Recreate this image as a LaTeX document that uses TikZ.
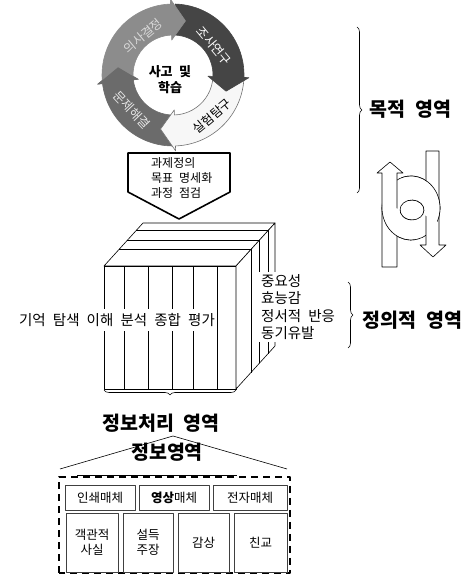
\documentclass[tikz,border=0pt]{standalone}
\usepackage{fontspec}
\setmainfont{Noto Sans CJK KR}[WordSpace=2.2]
\usetikzlibrary{decorations.pathreplacing,calc}
\definecolor{gA}{gray}{0.55}
\definecolor{gB}{gray}{0.27}
\definecolor{gC}{gray}{0.97}
\definecolor{gD}{gray}{0.42}
\newcommand\cycarr[4]{%
  \filldraw[fill=#3,draw=#4,line width=0.6pt,shift={(173,502)}]
  (#1:71) arc[start angle=#1,end angle=#2,radius=71] -- (#2:76) -- ({#2-15}:55.5)
  -- (#2:35) -- (#2:40) arc[start angle=#2,end angle=#1,radius=40] -- cycle;}
\begin{document}
\begin{tikzpicture}[x=1pt,y=1pt,line join=round,
  thin line/.style={line width=0.6pt},
  bigl/.style={font=\bfseries\fontsize{19.5}{20}\selectfont},
  midl/.style={font=\fontsize{14.5}{17.3}\selectfont},
  ringl/.style={font=\fontsize{12.5}{13}\selectfont,inner sep=0pt},
  boxl/.style={draw=black!75,line width=0.8pt,font=\fontsize{12.5}{15.5}\selectfont,align=center,inner sep=0pt},
  braceb/.style={decorate,decoration={brace,amplitude=5pt},line width=0.6pt}]
\useasboundingbox (0,0) rectangle (471,577);
\fill[white] (0,0) rectangle (471,577);

% ---- cycle of arrows
\cycarr{269}{187}{gD}{gD}
\cycarr{-4}{-88}{gC}{black!55}
\cycarr{88}{-2}{gB}{gB}
\cycarr{184}{92}{gA}{gA}
\fill[gD,shift={(173,502)}] (187:76) -- (172:55.5) -- (187:35) -- cycle;

\node[ringl,text=white!85!black,rotate=40] (r1) at (143,541) {의사결정};
\node[ringl,text=white,rotate=-50] (r2) at (214,531) {조사연구};
\node[ringl,text=black,rotate=40] (r3) at (212,461) {실험탐구};
\node[ringl,text=white!90!black,rotate=-47] (r4) at (132,467) {문제해결};
\node[font=\bfseries\fontsize{13}{16}\selectfont,align=center] (think) at (170,497) {사고 및\\학습};

% ---- pentagon
\draw[line width=1.6pt,fill=white] (128,424) -- (230,424) -- (230,385) -- (179,358) -- (128,385) -- cycle;
\node[anchor=west,inner sep=0pt,font=\fontsize{12}{12}\selectfont] (p1) at (151,414) {과제정의};
\node[anchor=west,inner sep=0pt,font=\fontsize{12}{12}\selectfont] (p2) at (151,399) {목표 명세화};
\node[anchor=west,inner sep=0pt,font=\fontsize{12}{12}\selectfont] (p3) at (151,384) {과정 점검};

% ---- cube
\begin{scope}[thin line]
\filldraw[fill=white] (104,188) rectangle (236,311);
\filldraw[fill=white] (104,311) -- (236,311) -- (275,354) -- (143,354) -- cycle;
\filldraw[fill=white] (236,311) -- (275,354) -- (275,231) -- (236,188) -- cycle;
\foreach \t in {0.38,0.6,0.82}
  \draw ({104+39*\t},{311+43*\t}) -- ({236+39*\t},{311+43*\t}) -- ({236+39*\t},{188+43*\t});
\foreach \x in {124,148,172,193,217} \draw (\x,188) -- (\x,311);
\end{scope}
\node[midl,fill=white,inner xsep=1pt,inner ysep=4pt] (proc) at (117,257) {기억 탐색 이해 분석 종합 평가};
\node[midl,fill=white,anchor=west,align=left,inner sep=2pt] (aff) at (259,270) {중요성\\효능감\\정서적 반응\\동기유발};

% ---- braces and labels
\draw[braceb] (357,550) -- (357,384);
\node[bigl,anchor=west] (goal) at (366,468) {목적 영역};
\draw[braceb] (348,295) -- (348,229);
\node[bigl,anchor=west] (affl) at (359,257) {정의적 영역};
\draw[braceb] (236,187) -- (104,187);
\node[bigl] (procl) at (161,154) {정보처리 영역};

% ---- twisted arrows
\begin{scope}[thin line]
\filldraw[fill=white,even odd rule] (411,369) ellipse[x radius=29,y radius=32] (412,367) ellipse[x radius=12,y radius=10];
\filldraw[fill=white] (382,310) -- (382,404) -- (377,404) -- (390,415) -- (403,404) -- (397,404) -- (397,310) -- cycle;
\filldraw[fill=white] (426,426) -- (439,426) -- (439,332) -- (446,332) -- (433,320) -- (420,332) -- (426,332) -- cycle;
\begin{scope}[shift={(411,369)}]
\fill[white] (110:29 and 32) arc[start angle=110,end angle=-25,x radius=29,y radius=32]
  -- ($(1,-2)+(-25:12 and 10)$) arc[start angle=-25,end angle=110,x radius=12,y radius=10] -- cycle;
\draw (110:29 and 32) arc[start angle=110,end angle=-25,x radius=29,y radius=32];
\draw ($(1,-2)+(-25:12 and 10)$) arc[start angle=-25,end angle=110,x radius=12,y radius=10];
\fill[white] (175:29 and 32) arc[start angle=175,end angle=280,x radius=29,y radius=32]
  -- ($(1,-2)+(280:12 and 10)$) arc[start angle=280,end angle=175,x radius=12,y radius=10] -- cycle;
\draw (175:29 and 32) arc[start angle=175,end angle=280,x radius=29,y radius=32];
\draw ($(1,-2)+(280:12 and 10)$) arc[start angle=280,end angle=175,x radius=12,y radius=10];
\end{scope}
\end{scope}

% ---- information area
\draw[thin line] (60,108) -- (173,141) -- (287,108);
\draw[thin line] (77,102) -- (237,102);
\node[bigl] (info) at (167,125) {정보영역};
\draw[line width=2.2pt,dash pattern=on 7pt off 5pt] (59,4) rectangle (290,100);
\node[boxl,minimum width=70,minimum height=25] (m1) at (100,79.5) {인쇄매체};
\node[boxl,minimum width=70,minimum height=25] (m2) at (174,79.5) {{\bfseries 영상}매체};
\node[boxl,minimum width=74,minimum height=25] (m3) at (250,79.5) {전자매체};
\node[boxl,minimum width=52,minimum height=59] (c1) at (92,34.5) {객관적\\사실};
\node[boxl,minimum width=50,minimum height=59] (c2) at (148,34.5) {설득\\주장};
\node[boxl,minimum width=51,minimum height=59] (c3) at (203.5,34.5) {감상};
\node[boxl,minimum width=53,minimum height=59] (c4) at (260.5,34.5) {친교};
\end{tikzpicture}
\end{document}
